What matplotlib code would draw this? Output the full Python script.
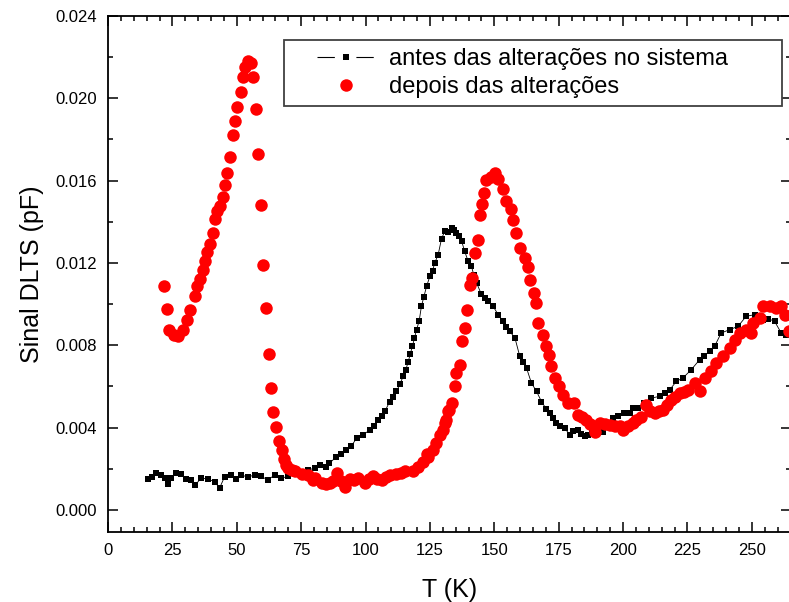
import numpy as np
import matplotlib
matplotlib.use('Agg')
import matplotlib.pyplot as plt
from matplotlib.ticker import MultipleLocator
from matplotlib.lines import Line2D
from matplotlib.legend_handler import HandlerLine2D

plt.rcParams['font.family'] = ['Liberation Sans', 'DejaVu Sans']
plt.rcParams['font.size'] = 12
plt.rcParams['lines.scale_dashes'] = False

# antes das alterações no sistema (T [K], sinal [pF])
t_antes = [15.5, 17, 18.7, 20.7, 22, 23.3, 24.6, 26.5, 28.5, 30.4, 32.3, 33.9, 36.2, 38.8,
           41.4, 43.3, 45.3, 47.8, 49.8, 51.7, 54.3, 56.9, 59.5, 62.1, 64.7, 67.3, 69.9,
           72.5, 75.1, 77.8, 80.3, 82.3, 84.5, 86.0, 88.7, 90.5, 92.6, 94.5, 96.5, 99.0,
           101.7, 103.3, 104.9, 106.2, 107.5, 109.4, 110.7, 112.0, 113.3, 114.6, 115.6,
           116.5, 117.4, 118.2, 119.0, 119.8, 120.8, 121.7, 122.6, 123.7, 125.0, 126.0,
           126.9, 128.2, 129.5, 130.8, 132.1, 133.4, 134.4, 135.3, 136.3, 137.3, 138.5,
           139.8, 141.1, 142.1, 143.1, 145.0, 146.3, 147.6, 149.5, 151.5, 153.4, 154.7,
           156.0, 158.0, 159.9, 161.2, 162.5, 164.4, 166.4, 168.3, 170.2, 171.5, 172.8,
           174.1, 175.4, 177.3, 179.3, 180.6, 182.5, 183.8, 185.1, 186.5, 188.0, 190.0,
           192.2, 194.0, 196.1, 198.0, 200.3, 202.6, 203.8, 205.8, 208.0, 211.0, 214.2,
           216.2, 218.1, 220.7, 223.2, 226.5, 229.7, 231.5, 233.6, 235.5, 238.1, 241.4,
           244.6, 247.8, 251.1, 254.3, 256.2, 258.8, 261.4, 263.4, 265.5]
s_antes = [0.00149, 0.00160, 0.00179, 0.00170, 0.00155, 0.00125, 0.00154, 0.00179, 0.00175,
           0.00149, 0.00146, 0.00122, 0.00155, 0.00150, 0.00138, 0.00106, 0.00162, 0.00170,
           0.00150, 0.00170, 0.00160, 0.00170, 0.00163, 0.00146, 0.00170, 0.00155, 0.00163,
           0.00187, 0.00175, 0.00195, 0.00203, 0.00219, 0.00210, 0.00227, 0.00259, 0.00270,
           0.00289, 0.00310, 0.00349, 0.00365, 0.00389, 0.00410, 0.00438, 0.00455, 0.00479,
           0.00527, 0.00550, 0.00576, 0.00610, 0.00649, 0.00680, 0.00717, 0.00760, 0.00795,
           0.00835, 0.00876, 0.00917, 0.00990, 0.01034, 0.01087, 0.01136, 0.01163, 0.01201,
           0.01241, 0.01318, 0.01355, 0.01350, 0.01371, 0.01360, 0.01347, 0.01330, 0.01306,
           0.01257, 0.01209, 0.01184, 0.01140, 0.01104, 0.01047, 0.01030, 0.01014, 0.00990,
           0.00949, 0.00917, 0.00890, 0.00868, 0.00836, 0.00746, 0.00720, 0.00690, 0.00617,
           0.00576, 0.00527, 0.00490, 0.00470, 0.00446, 0.00425, 0.00406, 0.00398, 0.00365,
           0.00385, 0.00389, 0.00370, 0.00357, 0.00362, 0.00375, 0.00370, 0.00381, 0.00410,
           0.00446, 0.00458, 0.00470, 0.00471, 0.00495, 0.00495, 0.00520, 0.00544, 0.00552,
           0.00570, 0.00584, 0.00625, 0.00641, 0.00682, 0.00730, 0.00750, 0.00771, 0.00795,
           0.00860, 0.00876, 0.00892, 0.00941, 0.00949, 0.00925, 0.00930, 0.00917, 0.00860,
           0.00852, 0.00840]

# depois das alterações
t_depois = [21.7, 22.8, 23.8, 25.6, 27.0, 29.0, 30.5, 31.8, 33.8, 34.7, 35.7, 36.7, 37.6,
            38.5, 39.6, 40.6, 41.5, 42.4, 43.5, 44.5, 45.4, 46.3, 47.3, 48.4, 49.3, 50.2,
            51.5, 52.3, 53.2, 54.2, 55.4, 56.4, 57.3, 58.3, 59.3, 60.3, 61.3, 62.5, 63.1,
            64.1, 65.2, 66.4, 67.4, 68.3, 69.0, 70.0, 71.3, 72.6, 75.2, 77.7, 79.7, 80.3,
            82.9, 84.5, 86.1, 87.5, 89.0, 90.5, 92.0, 93.9, 95.5, 97.1, 99.7, 101.4, 103.0,
            104.6, 106.2, 107.8, 109.4, 112.0, 113.6, 115.2, 118.5, 120.4, 122.4, 123.7,
            124.3, 126.0, 127.5, 128.8, 130.1, 130.8, 131.4, 132.0, 132.3, 133.4, 134.7,
            135.3, 136.6, 137.6, 138.5, 139.4, 140.5, 141.5, 142.4, 143.5, 144.4, 145.3,
            146.0, 146.9, 148.9, 150.2, 151.5, 153.4, 154.7, 156.3, 157.3, 158.6, 159.9,
            161.8, 163.1, 164.0, 165.3, 166.1, 167.0, 168.9, 170.0, 171.3, 172.2, 173.5,
            175.1, 176.7, 178.6, 180.8, 182.5, 184.0, 185.5, 187.2, 189.0, 190.9, 192.8,
            194.8, 196.8, 198.7, 200.0, 201.9, 203.8, 205.1, 207.0, 209.0, 210.6, 212.3,
            214.0, 215.5, 217.0, 218.7, 220.3, 222.0, 223.6, 225.2, 227.8, 229.7, 231.7,
            234.3, 236.2, 238.8, 241.4, 243.3, 245.2, 247.8, 249.8, 250.4, 253.0, 254.3,
            256.9, 259.5, 261.4, 262.7, 264.5]
s_depois = [0.01087, 0.00977, 0.00873, 0.00852, 0.00844, 0.00876, 0.00925, 0.00974, 0.01042,
            0.01090, 0.01120, 0.01168, 0.01209, 0.01253, 0.01292, 0.01344, 0.01415, 0.01452,
            0.01477, 0.01519, 0.01579, 0.01639, 0.01717, 0.01821, 0.01890, 0.01958, 0.02033,
            0.02102, 0.02153, 0.02182, 0.02174, 0.02106, 0.01947, 0.01728, 0.01481, 0.01188,
            0.00982, 0.00758, 0.00594, 0.00474, 0.00401, 0.00333, 0.00292, 0.00250, 0.00219,
            0.00203, 0.00195, 0.00187, 0.00175, 0.00170, 0.00146, 0.00154, 0.00130, 0.00125,
            0.00130, 0.00140, 0.00179, 0.00140, 0.00113, 0.00150, 0.00145, 0.00157, 0.00133,
            0.00150, 0.00166, 0.00150, 0.00146, 0.00160, 0.00170, 0.00174, 0.00180, 0.00187,
            0.00187, 0.00211, 0.00235, 0.00270, 0.00259, 0.00292, 0.00325, 0.00365, 0.00389,
            0.00422, 0.00438, 0.00479, 0.00487, 0.00520, 0.00600, 0.00665, 0.00706, 0.00819,
            0.00885, 0.00974, 0.01095, 0.01128, 0.01250, 0.01311, 0.01431, 0.01485, 0.01542,
            0.01603, 0.01620, 0.01636, 0.01607, 0.01558, 0.01501, 0.01460, 0.01408, 0.01347,
            0.01274, 0.01225, 0.01181, 0.01116, 0.01055, 0.01006, 0.00909, 0.00852, 0.00795,
            0.00755, 0.00698, 0.00641, 0.00600, 0.00560, 0.00519, 0.00519, 0.00462, 0.00450,
            0.00438, 0.00420, 0.00381, 0.00425, 0.00420, 0.00414, 0.00410, 0.00406, 0.00389,
            0.00410, 0.00422, 0.00438, 0.00450, 0.00511, 0.00480, 0.00471, 0.00480, 0.00487,
            0.00510, 0.00535, 0.00550, 0.00568, 0.00575, 0.00584, 0.00617, 0.00576, 0.00641,
            0.00673, 0.00714, 0.00746, 0.00787, 0.00828, 0.00860, 0.00876, 0.00860, 0.00909,
            0.00933, 0.00990, 0.00993, 0.00982, 0.00990, 0.00949, 0.00870]

labels = ['antes das alterações no sistema', 'depois das alterações']


class OffsetHandler(HandlerLine2D):
    # origin-style legend symbol: short line with a gap around the marker
    def get_xdata(self, legend, xdescent, ydescent, width, height, fontsize):
        xd = np.array([-xdescent + 0.30 * width, -xdescent + width])
        xm = np.array([-xdescent + 0.66 * width])
        return xd, xm


fig = plt.figure(figsize=(7.89, 6.02), dpi=100)
ax = fig.add_axes([108/789, 70/602, 682.5/789, 516/602])

ax.plot(t_antes, s_antes, '-', color='black', lw=0.6, marker='s', ms=5,
        mew=0, zorder=2)
ax.plot(t_depois, s_depois, 'o', color='red', ms=9, mew=0, zorder=3)

ax.set_xlim(0, 265)
ax.set_ylim(-0.00107, 0.024)
ax.xaxis.set_major_locator(MultipleLocator(25))
ax.xaxis.set_minor_locator(MultipleLocator(5))
ax.yaxis.set_major_locator(MultipleLocator(0.004))
ax.yaxis.set_minor_locator(MultipleLocator(0.002))
ax.yaxis.set_major_formatter(lambda v, p: f'{v:.3f}')
ax.tick_params(which='both', direction='in', top=True, right=True, width=1.1)
ax.tick_params(which='major', length=7, labelsize=12, pad=8)
ax.tick_params(which='minor', length=3.5)
for sp in ax.spines.values():
    sp.set_linewidth(1.3)

ax.set_xlabel('T (K)', fontsize=18, labelpad=14)
ax.set_ylabel('Sinal DLTS (pF)', fontsize=18, labelpad=8)

h_antes = Line2D([], [], color='black', lw=0.8, ls=(0, (12.5, 15.5)), marker='s', ms=5, mew=0)
h_depois = Line2D([], [], ls='none', color='red', marker='o', ms=9, mew=0)
leg = ax.legend([h_antes, h_depois], labels, loc='upper left',
                bbox_to_anchor=(0.2584, 0, 0.7298, 0.9542), mode='expand',
                borderaxespad=0, fontsize=17, fancybox=False, edgecolor='#404040',
                framealpha=1, handlelength=3.5, borderpad=0.35, labelspacing=0.25,
                handletextpad=0.6, handler_map={Line2D: OffsetHandler(numpoints=1)})
leg.get_frame().set_linewidth(1.3)

fig.savefig('out.png', dpi=100)
